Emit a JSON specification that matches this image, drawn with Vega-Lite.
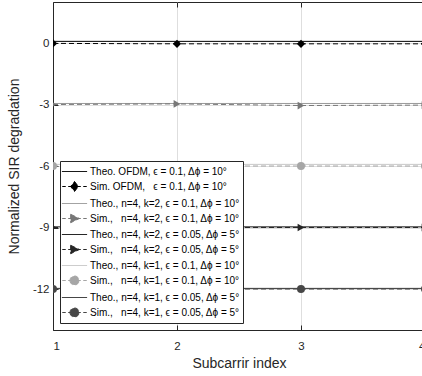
{
  "$schema": "https://vega.github.io/schema/vega-lite/v6.json",
  "width": 372,
  "height": 328,
  "autosize": "none",
  "padding": {"left": 53, "top": 2, "right": 0, "bottom": 46},
  "background": "white",
  "config": {
    "font": "Liberation Sans",
    "view": {"stroke": "#262626", "strokeWidth": 1},
    "legend": {"symbolFillColor": "black"},
    "axis": {"labelColor": "#262626", "titleColor": "#262626", "domainColor": "#262626", "tickColor": "#262626", "labelFontSize": 11.5, "titleFontSize": 14, "titleFontWeight": "normal", "gridColor": "#dedede", "gridWidth": 1}
  },
  "data": {
    "values": [
      {"series": "Theo. OFDM, ϵ = 0.1, Δϕ = 10°", "kind": "theo", "x": 1, "y": 0.08},
      {"series": "Theo. OFDM, ϵ = 0.1, Δϕ = 10°", "kind": "theo", "x": 2, "y": 0.08},
      {"series": "Theo. OFDM, ϵ = 0.1, Δϕ = 10°", "kind": "theo", "x": 3, "y": 0.08},
      {"series": "Theo. OFDM, ϵ = 0.1, Δϕ = 10°", "kind": "theo", "x": 4, "y": 0.08},
      {"series": "Sim. OFDM,\u00a0\u00a0\u00a0ϵ = 0.1, Δϕ = 10°", "kind": "diamond", "x": 1, "y": -0.02},
      {"series": "Sim. OFDM,\u00a0\u00a0\u00a0ϵ = 0.1, Δϕ = 10°", "kind": "diamond", "x": 2, "y": -0.04},
      {"series": "Sim. OFDM,\u00a0\u00a0\u00a0ϵ = 0.1, Δϕ = 10°", "kind": "diamond", "x": 3, "y": -0.04},
      {"series": "Sim. OFDM,\u00a0\u00a0\u00a0ϵ = 0.1, Δϕ = 10°", "kind": "diamond", "x": 4, "y": -0.04},
      {"series": "Theo., n=4, k=2, ϵ = 0.1, Δϕ = 10°", "kind": "theo", "x": 1, "y": -2.95},
      {"series": "Theo., n=4, k=2, ϵ = 0.1, Δϕ = 10°", "kind": "theo", "x": 2, "y": -2.95},
      {"series": "Theo., n=4, k=2, ϵ = 0.1, Δϕ = 10°", "kind": "theo", "x": 3, "y": -2.95},
      {"series": "Theo., n=4, k=2, ϵ = 0.1, Δϕ = 10°", "kind": "theo", "x": 4, "y": -2.95},
      {"series": "Sim.,\u00a0\u00a0\u00a0n=4, k=2, ϵ = 0.1, Δϕ = 10°", "kind": "triangle", "x": 1, "y": -3.0},
      {"series": "Sim.,\u00a0\u00a0\u00a0n=4, k=2, ϵ = 0.1, Δϕ = 10°", "kind": "triangle", "x": 2, "y": -2.97},
      {"series": "Sim.,\u00a0\u00a0\u00a0n=4, k=2, ϵ = 0.1, Δϕ = 10°", "kind": "triangle", "x": 3, "y": -3.05},
      {"series": "Sim.,\u00a0\u00a0\u00a0n=4, k=2, ϵ = 0.1, Δϕ = 10°", "kind": "triangle", "x": 4, "y": -3.03},
      {"series": "Theo., n=4, k=2, ϵ = 0.05, Δϕ = 5°", "kind": "theo", "x": 1, "y": -8.97},
      {"series": "Theo., n=4, k=2, ϵ = 0.05, Δϕ = 5°", "kind": "theo", "x": 2, "y": -8.97},
      {"series": "Theo., n=4, k=2, ϵ = 0.05, Δϕ = 5°", "kind": "theo", "x": 3, "y": -8.97},
      {"series": "Theo., n=4, k=2, ϵ = 0.05, Δϕ = 5°", "kind": "theo", "x": 4, "y": -8.97},
      {"series": "Sim.,\u00a0\u00a0\u00a0n=4, k=2, ϵ = 0.05, Δϕ = 5°", "kind": "triangle", "x": 1, "y": -9.0},
      {"series": "Sim.,\u00a0\u00a0\u00a0n=4, k=2, ϵ = 0.05, Δϕ = 5°", "kind": "triangle", "x": 2, "y": -9.0},
      {"series": "Sim.,\u00a0\u00a0\u00a0n=4, k=2, ϵ = 0.05, Δϕ = 5°", "kind": "triangle", "x": 3, "y": -9.0},
      {"series": "Sim.,\u00a0\u00a0\u00a0n=4, k=2, ϵ = 0.05, Δϕ = 5°", "kind": "triangle", "x": 4, "y": -9.0},
      {"series": "Theo., n=4, k=1, ϵ = 0.1, Δϕ = 10°", "kind": "theo", "x": 1, "y": -5.92},
      {"series": "Theo., n=4, k=1, ϵ = 0.1, Δϕ = 10°", "kind": "theo", "x": 2, "y": -5.92},
      {"series": "Theo., n=4, k=1, ϵ = 0.1, Δϕ = 10°", "kind": "theo", "x": 3, "y": -5.92},
      {"series": "Theo., n=4, k=1, ϵ = 0.1, Δϕ = 10°", "kind": "theo", "x": 4, "y": -5.92},
      {"series": "Sim.,\u00a0\u00a0\u00a0n=4, k=1, ϵ = 0.1, Δϕ = 10°", "kind": "circle", "x": 1, "y": -6.0},
      {"series": "Sim.,\u00a0\u00a0\u00a0n=4, k=1, ϵ = 0.1, Δϕ = 10°", "kind": "circle", "x": 2, "y": -6.0},
      {"series": "Sim.,\u00a0\u00a0\u00a0n=4, k=1, ϵ = 0.1, Δϕ = 10°", "kind": "circle", "x": 3, "y": -6.0},
      {"series": "Sim.,\u00a0\u00a0\u00a0n=4, k=1, ϵ = 0.1, Δϕ = 10°", "kind": "circle", "x": 4, "y": -6.0},
      {"series": "Theo., n=4, k=1, ϵ = 0.05, Δϕ = 5°", "kind": "theo", "x": 1, "y": -11.97},
      {"series": "Theo., n=4, k=1, ϵ = 0.05, Δϕ = 5°", "kind": "theo", "x": 2, "y": -11.97},
      {"series": "Theo., n=4, k=1, ϵ = 0.05, Δϕ = 5°", "kind": "theo", "x": 3, "y": -11.97},
      {"series": "Theo., n=4, k=1, ϵ = 0.05, Δϕ = 5°", "kind": "theo", "x": 4, "y": -11.97},
      {"series": "Sim.,\u00a0\u00a0\u00a0n=4, k=1, ϵ = 0.05, Δϕ = 5°", "kind": "circle", "x": 1, "y": -12.0},
      {"series": "Sim.,\u00a0\u00a0\u00a0n=4, k=1, ϵ = 0.05, Δϕ = 5°", "kind": "circle", "x": 2, "y": -12.0},
      {"series": "Sim.,\u00a0\u00a0\u00a0n=4, k=1, ϵ = 0.05, Δϕ = 5°", "kind": "circle", "x": 3, "y": -12.0},
      {"series": "Sim.,\u00a0\u00a0\u00a0n=4, k=1, ϵ = 0.05, Δϕ = 5°", "kind": "circle", "x": 4, "y": -12.0}
    ]
  },
  "resolve": {"axis": {"x": "independent", "y": "independent"}},
  "layer": [
    {
      "mark": {"type": "point", "opacity": 0, "filled": true},
      "encoding": {
        "x": {"field": "x", "type": "quantitative", "scale": {"domain": [1, 4], "nice": false, "zero": false}, "axis": {"orient": "top", "values": [1, 2, 3, 4], "labels": false, "title": null, "grid": false, "domain": false, "tickSize": -5}},
        "y": {"field": "y", "type": "quantitative", "scale": {"domain": [-14, 2], "nice": false, "zero": false}, "axis": null},
        "fill": {"field": "series", "type": "nominal",
          "scale": {
            "domain": ["Theo. OFDM, ϵ = 0.1, Δϕ = 10°", "Sim. OFDM,\u00a0\u00a0\u00a0ϵ = 0.1, Δϕ = 10°", "Theo., n=4, k=2, ϵ = 0.1, Δϕ = 10°", "Sim.,\u00a0\u00a0\u00a0n=4, k=2, ϵ = 0.1, Δϕ = 10°", "Theo., n=4, k=2, ϵ = 0.05, Δϕ = 5°", "Sim.,\u00a0\u00a0\u00a0n=4, k=2, ϵ = 0.05, Δϕ = 5°", "Theo., n=4, k=1, ϵ = 0.1, Δϕ = 10°", "Sim.,\u00a0\u00a0\u00a0n=4, k=1, ϵ = 0.1, Δϕ = 10°", "Theo., n=4, k=1, ϵ = 0.05, Δϕ = 5°", "Sim.,\u00a0\u00a0\u00a0n=4, k=1, ϵ = 0.05, Δϕ = 5°"],
            "range": ["#000000", "#000000", "#9a9a9a", "#777777", "#111111", "#262626", "#c8c8c8", "#a6a6a6", "#333333", "#474747"]},
          "legend": {"title": null, "orient": "bottom-left", "offset": 7, "strokeColor": "#262626", "fillColor": "white", "padding": 3, "rowPadding": 2, "symbolSize": 196, "symbolOffset": 4, "labelOffset": 8, "labelFontSize": 10, "labelColor": "#000000", "labelLimit": 300, "symbolStrokeWidth": 1, "symbolOpacity": 1}},
        "stroke": {"field": "series", "type": "nominal",
          "scale": {
            "domain": ["Theo. OFDM, ϵ = 0.1, Δϕ = 10°", "Sim. OFDM,\u00a0\u00a0\u00a0ϵ = 0.1, Δϕ = 10°", "Theo., n=4, k=2, ϵ = 0.1, Δϕ = 10°", "Sim.,\u00a0\u00a0\u00a0n=4, k=2, ϵ = 0.1, Δϕ = 10°", "Theo., n=4, k=2, ϵ = 0.05, Δϕ = 5°", "Sim.,\u00a0\u00a0\u00a0n=4, k=2, ϵ = 0.05, Δϕ = 5°", "Theo., n=4, k=1, ϵ = 0.1, Δϕ = 10°", "Sim.,\u00a0\u00a0\u00a0n=4, k=1, ϵ = 0.1, Δϕ = 10°", "Theo., n=4, k=1, ϵ = 0.05, Δϕ = 5°", "Sim.,\u00a0\u00a0\u00a0n=4, k=1, ϵ = 0.05, Δϕ = 5°"],
            "range": ["#000000", "#000000", "#9a9a9a", "#777777", "#111111", "#262626", "#c8c8c8", "#a6a6a6", "#333333", "#474747"]}},
        "shape": {"field": "series", "type": "nominal",
          "scale": {
            "domain": ["Theo. OFDM, ϵ = 0.1, Δϕ = 10°", "Sim. OFDM,\u00a0\u00a0\u00a0ϵ = 0.1, Δϕ = 10°", "Theo., n=4, k=2, ϵ = 0.1, Δϕ = 10°", "Sim.,\u00a0\u00a0\u00a0n=4, k=2, ϵ = 0.1, Δϕ = 10°", "Theo., n=4, k=2, ϵ = 0.05, Δϕ = 5°", "Sim.,\u00a0\u00a0\u00a0n=4, k=2, ϵ = 0.05, Δϕ = 5°", "Theo., n=4, k=1, ϵ = 0.1, Δϕ = 10°", "Sim.,\u00a0\u00a0\u00a0n=4, k=1, ϵ = 0.1, Δϕ = 10°", "Theo., n=4, k=1, ϵ = 0.05, Δϕ = 5°", "Sim.,\u00a0\u00a0\u00a0n=4, k=1, ϵ = 0.05, Δϕ = 5°"],
            "range": [
              "M-1.8,0H1.8",
              "M-1.75,0H-1.25M-0.9,0H0.9M1.25,0H1.75M0,-0.72L0.55,0L0,0.72L-0.55,0Z",
              "M-1.8,0H1.8",
              "M-1.75,0H-1.25M-0.9,0H0.9M1.25,0H1.75M-0.55,-0.6L0.7,0L-0.55,0.6Z",
              "M-1.8,0H1.8",
              "M-1.75,0H-1.25M-0.9,0H0.9M1.25,0H1.75M-0.55,-0.6L0.7,0L-0.55,0.6Z",
              "M-1.8,0H1.8",
              "M-1.75,0H-1.25M-0.9,0H0.9M1.25,0H1.75M-0.65,0A0.65,0.65,0,1,0,0.65,0A0.65,0.65,0,1,0,-0.65,0Z",
              "M-1.8,0H1.8",
              "M-1.75,0H-1.25M-0.9,0H0.9M1.25,0H1.75M-0.65,0A0.65,0.65,0,1,0,0.65,0A0.65,0.65,0,1,0,-0.65,0Z"
            ]}}
      }
    },
    {
      "mark": {"type": "line", "strokeWidth": 1, "clip": true},
      "encoding": {
        "x": {"field": "x", "type": "quantitative",
          "axis": {"values": [1, 2, 3, 4], "title": "Subcarrir index", "grid": true, "tickSize": -5, "labelPadding": 15, "titlePadding": 5, "format": "d"}},
        "y": {"field": "y", "type": "quantitative",
          "axis": {"values": [-12, -9, -6, -3, 0], "title": "Normalized SIR degradation", "grid": true, "tickSize": -5, "labelPadding": 9, "titlePadding": 11, "labelExpr": "replace(datum.label, '−', '-')"}},
        "detail": {"field": "series"},
        "stroke": {"field": "series", "type": "nominal", "legend": null},
        "strokeDash": {"field": "series", "type": "nominal", "legend": null,
          "scale": {
            "domain": ["Theo. OFDM, ϵ = 0.1, Δϕ = 10°", "Sim. OFDM,\u00a0\u00a0\u00a0ϵ = 0.1, Δϕ = 10°", "Theo., n=4, k=2, ϵ = 0.1, Δϕ = 10°", "Sim.,\u00a0\u00a0\u00a0n=4, k=2, ϵ = 0.1, Δϕ = 10°", "Theo., n=4, k=2, ϵ = 0.05, Δϕ = 5°", "Sim.,\u00a0\u00a0\u00a0n=4, k=2, ϵ = 0.05, Δϕ = 5°", "Theo., n=4, k=1, ϵ = 0.1, Δϕ = 10°", "Sim.,\u00a0\u00a0\u00a0n=4, k=1, ϵ = 0.1, Δϕ = 10°", "Theo., n=4, k=1, ϵ = 0.05, Δϕ = 5°", "Sim.,\u00a0\u00a0\u00a0n=4, k=1, ϵ = 0.05, Δϕ = 5°"],
            "range": [[1, 0], [5, 3], [1, 0], [5, 3], [1, 0], [5, 3], [1, 0], [5, 3], [1, 0], [5, 3]]}}
      }
    },
    {
      "transform": [{"filter": "datum.kind === 'diamond'"}],
      "mark": {"type": "point", "shape": "diamond", "filled": true, "opacity": 1, "size": 70, "clip": true},
      "encoding": {
        "x": {"field": "x", "type": "quantitative", "axis": null},
        "y": {"field": "y", "type": "quantitative", "axis": null},
        "fill": {"field": "series", "type": "nominal", "legend": null}
      }
    },
    {
      "transform": [{"filter": "datum.kind === 'triangle'"}],
      "mark": {"type": "point", "shape": "triangle-right", "filled": true, "opacity": 1, "size": 60, "clip": true},
      "encoding": {
        "x": {"field": "x", "type": "quantitative", "axis": null},
        "y": {"field": "y", "type": "quantitative", "axis": null},
        "fill": {"field": "series", "type": "nominal", "legend": null}
      }
    },
    {
      "transform": [{"filter": "datum.kind === 'circle'"}],
      "mark": {"type": "point", "shape": "circle", "filled": true, "opacity": 1, "size": 64, "clip": true},
      "encoding": {
        "x": {"field": "x", "type": "quantitative", "axis": null},
        "y": {"field": "y", "type": "quantitative", "axis": null},
        "fill": {"field": "series", "type": "nominal", "legend": null}
      }
    }
  ]
}
